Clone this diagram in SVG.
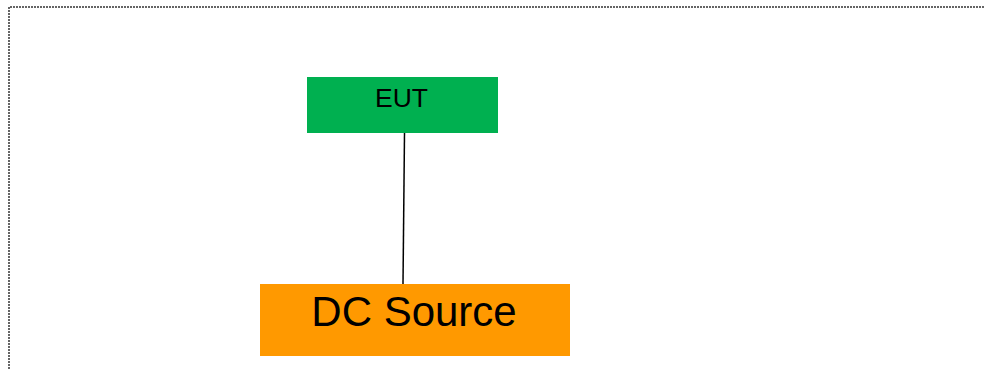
<svg xmlns="http://www.w3.org/2000/svg" width="984" height="369" viewBox="0 0 984 369">
<style>
.lbl{font-family:"Liberation Sans",Arial,sans-serif;fill:#000;text-anchor:middle}
</style>
<rect width="984" height="369" fill="#fff"/>
<path d="M9 369V7H984" fill="none" stroke="#333" stroke-width="1.5" stroke-dasharray="2 1"/>
<g id="connectors">
<line x1="404.5" y1="133" x2="403" y2="284" stroke="#000" stroke-width="1.5"/>
</g>
<g id="eut">
<rect x="307" y="77" width="191" height="56" fill="#00B050"/>
<text class="lbl" x="401.5" y="107" font-size="26.5">EUT</text>
</g>
<g id="dc-source">
<rect x="260" y="284" width="310" height="72" fill="#FF9900"/>
<text class="lbl" x="414" y="326" font-size="42">DC Source</text>
</g>
</svg>
